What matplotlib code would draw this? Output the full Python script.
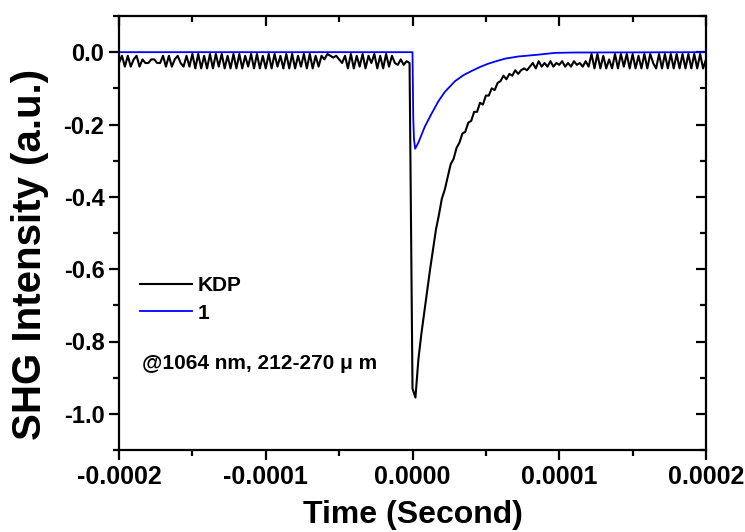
import numpy as np
import matplotlib
matplotlib.use('Agg')
import matplotlib.pyplot as plt
from matplotlib.ticker import MultipleLocator

plt.rcParams['font.family'] = ['Liberation Sans', 'DejaVu Sans']
plt.rcParams['font.weight'] = 'bold'

# KDP trace, sampled every 2 us from -200 us to +200 us
kdp_time_us = np.arange(-200, 201, 2)
kdp_signal = [
    # before the pulse (-200 .. -2 us)
    -0.03, -0.01, -0.04, -0.01, -0.04, -0.02, -0.01, -0.04,
    -0.02, -0.03, -0.03, -0.02, -0.02, -0.03, -0.03,
    -0.01, -0.04, -0.01, -0.04, -0.02, -0.01, -0.03, -0.04, -0.01, -0.04,
    -0.005, -0.045, -0.005, -0.045, -0.01, -0.045, -0.005, -0.045, -0.005, -0.04,
    -0.005, -0.045, -0.01, -0.045, -0.005, -0.045, -0.005, -0.045, -0.01, -0.04,
    -0.005, -0.045, -0.005, -0.045, -0.01,
    -0.045, -0.005, -0.045, -0.005, -0.04, -0.01, -0.045, -0.005, -0.045, -0.005,
    -0.045, -0.01, -0.04, -0.005, -0.045, -0.005, -0.045, -0.01, -0.04,
    -0.01, -0.02, -0.005, -0.01, -0.015, -0.01, -0.02, -0.03, -0.01, -0.045,
    -0.005, -0.045, -0.01, -0.04, -0.005, -0.045, -0.01, -0.03, -0.005, -0.045,
    -0.01, -0.045, -0.005, -0.04, -0.01,
    -0.03, -0.035, -0.02, -0.035, -0.025, -0.03,
    # pulse and decay (0 .. 80 us)
    -0.93, -0.955, -0.85, -0.78, -0.72, -0.66, -0.60, -0.545, -0.49, -0.45,
    -0.405, -0.38, -0.345, -0.31, -0.295, -0.265, -0.25, -0.225, -0.22, -0.195,
    -0.19, -0.165, -0.165, -0.14, -0.145, -0.12, -0.12, -0.10, -0.105, -0.085,
    -0.08, -0.065, -0.075, -0.06, -0.065, -0.05, -0.06, -0.05, -0.045, -0.05,
    -0.04,
    # tail (82 .. 120 us)
    -0.03, -0.045, -0.025, -0.04, -0.03, -0.04, -0.025, -0.04, -0.03, -0.035,
    -0.025, -0.04, -0.03, -0.04, -0.025, -0.035, -0.03, -0.04, -0.025, -0.04,
    # tail (122 .. 200 us)
    -0.005, -0.045, -0.005, -0.045, -0.01, -0.045, -0.02, -0.045, -0.005, -0.045,
    -0.005, -0.04, -0.005, -0.045, -0.005, -0.045, -0.01, -0.045, -0.005, -0.045,
    -0.005, -0.03, -0.045, -0.005, -0.045, -0.005, -0.045, -0.005, -0.045, -0.005,
    -0.045, -0.005, -0.045, -0.005, -0.045, -0.005, -0.045, -0.005, -0.045, -0.02,
]

# compound 1 trace
sample1_time_us = [-200, -1, 0, 0.5, 1.0, 1.8, 4, 8.5, 13, 17.6, 22, 29, 35,
                   40.3, 46, 51.5, 57, 63, 72, 85.5, 97, 110, 200]
sample1_signal = [0, 0, 0, -0.18, -0.24, -0.267, -0.25, -0.205, -0.17, -0.136,
                  -0.11, -0.08, -0.063, -0.052, -0.041, -0.032, -0.025, -0.018,
                  -0.012, -0.007, -0.002, -0.001, 0]

xticks = [-0.0002, -0.0001, 0.0, 0.0001, 0.0002]
xtick_labels = ['-0.0002', '-0.0001', '0.0000', '0.0001', '0.0002']
yticks = [0.0, -0.2, -0.4, -0.6, -0.8, -1.0]
ytick_labels = ['0.0', '-0.2', '-0.4', '-0.6', '-0.8', '-1.0']

fig = plt.figure(figsize=(7.45, 5.32), dpi=100)
ax = fig.add_axes([119 / 745, 82 / 532, 587 / 745, 434 / 532])

ax.plot(np.array(kdp_time_us) * 1e-6, kdp_signal, color='black', lw=1.5, label='KDP')
ax.plot(np.array(sample1_time_us) * 1e-6, sample1_signal, color='#0000ff', lw=1.3, label='1')

ax.set_xlim(-0.0002, 0.0002)
ax.set_ylim(-1.1, 0.1)
ax.set_xticks(xticks)
ax.set_xticklabels(xtick_labels)
ax.set_yticks(yticks)
ax.set_yticklabels(ytick_labels)
ax.xaxis.set_minor_locator(MultipleLocator(0.00005))
ax.yaxis.set_minor_locator(MultipleLocator(0.1))

for s in ax.spines.values():
    s.set_linewidth(1.6)
ax.tick_params(which='major', direction='out', length=7, width=1.6, pad=3.5)
ax.tick_params(which='minor', direction='out', length=4, width=1.6)
ax.tick_params(axis='y', labelsize=17)
ax.tick_params(axis='x', labelsize=18)
ax.tick_params(which='both', top=True, right=True)
# mirrored ticks on top/right point inward
for t in ax.xaxis.get_major_ticks() + ax.xaxis.get_minor_ticks():
    t.tick2line.set_marker(3)
for t in ax.yaxis.get_major_ticks() + ax.yaxis.get_minor_ticks():
    t.tick2line.set_marker(0)

ax.set_xlabel('Time (Second)', fontsize=23, fontweight='bold')
ax.set_ylabel('SHG Intensity (a.u.)', fontsize=29, fontweight='bold')
ax.xaxis.set_label_coords(0.5, -0.115)
ax.yaxis.set_label_coords(-0.12, 0.45)

ax.legend(loc='upper left', bbox_to_anchor=(0.035, 0.40), frameon=False,
          fontsize=15, handlelength=2.5, handletextpad=0.3, labelspacing=0.4,
          borderpad=0, borderaxespad=0)
ax.text(0.039, 0.2, '@1064 nm, 212-270 \u03bc m', transform=ax.transAxes,
        fontsize=15, fontweight='bold', va='center', ha='left')

fig.savefig('out.png', dpi=100)
